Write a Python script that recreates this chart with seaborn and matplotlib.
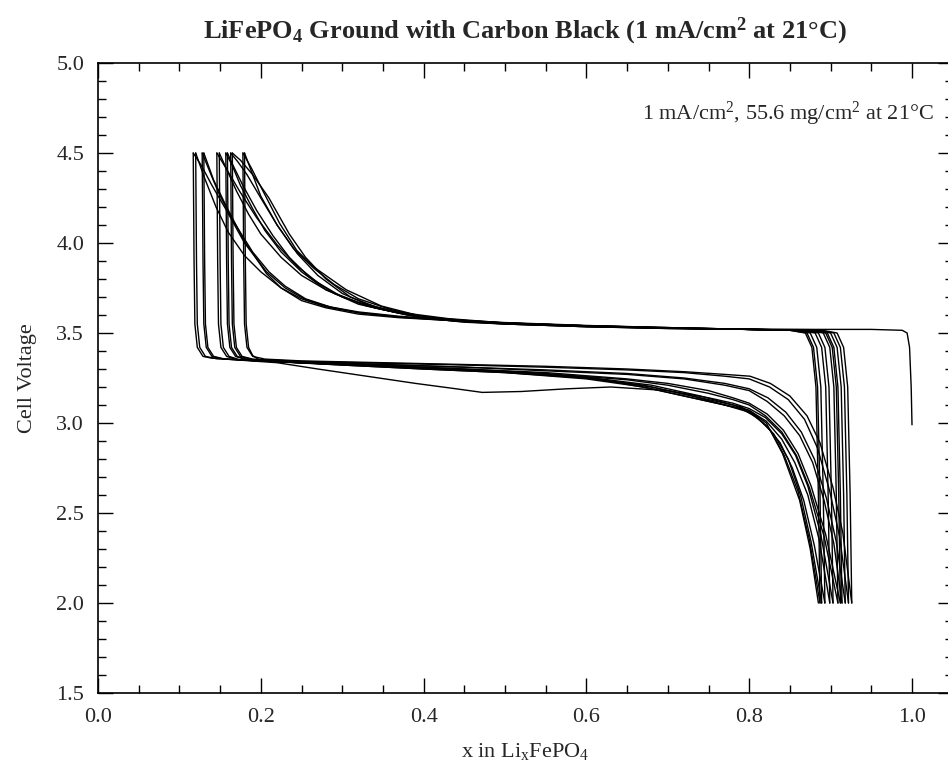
import numpy as np
import pandas as pd
import matplotlib
matplotlib.use("Agg")
import matplotlib.pyplot as plt
import seaborn as sns
from matplotlib.ticker import MultipleLocator

# ---- data: charge (C) and discharge (D) curves ----
C1_x = [1.000, 0.999, 0.997, 0.994, 0.988, 0.95, 0.88, 0.80, 0.70, 0.60, 0.50, 0.45, 0.40, 0.348, 0.305, 0.264, 0.244, 0.223, 0.198, 0.188, 0.178]
C1_v = [2.99, 3.20, 3.42, 3.50, 3.515, 3.52, 3.52, 3.522, 3.527, 3.535, 3.55, 3.565, 3.59, 3.65, 3.74, 3.87, 3.96, 4.11, 4.33, 4.42, 4.50]
D1_x = [0.178, 0.179, 0.180, 0.183, 0.190, 0.205, 0.25, 0.35, 0.45, 0.55, 0.65, 0.72, 0.77, 0.801, 0.826, 0.850, 0.871, 0.887, 0.903, 0.915, 0.926]
D1_v = [4.50, 3.90, 3.55, 3.42, 3.37, 3.355, 3.345, 3.335, 3.325, 3.315, 3.30, 3.285, 3.27, 3.26, 3.22, 3.15, 3.04, 2.89, 2.64, 2.39, 2.00]

C2_x = [0.926, 0.924, 0.921, 0.916, 0.908, 0.89, 0.80, 0.70, 0.60, 0.50, 0.45, 0.40, 0.35, 0.31, 0.28, 0.255, 0.235, 0.21, 0.19, 0.175, 0.165]
C2_v = [2.00, 2.60, 3.20, 3.42, 3.50, 3.515, 3.52, 3.525, 3.535, 3.55, 3.56, 3.585, 3.63, 3.70, 3.80, 3.92, 4.05, 4.25, 4.38, 4.46, 4.50]
D2_x = [0.165, 0.166, 0.167, 0.170, 0.177, 0.19, 0.25, 0.35, 0.45, 0.55, 0.65, 0.72, 0.77, 0.80, 0.825, 0.848, 0.868, 0.884, 0.899, 0.911, 0.922]
D2_v = [4.50, 3.90, 3.55, 3.42, 3.37, 3.355, 3.342, 3.332, 3.322, 3.31, 3.295, 3.28, 3.26, 3.245, 3.20, 3.13, 3.02, 2.86, 2.62, 2.37, 2.00]

C3_x = [0.922, 0.920, 0.917, 0.912, 0.904, 0.885, 0.80, 0.70, 0.60, 0.50, 0.44, 0.39, 0.34, 0.30, 0.27, 0.245, 0.22, 0.20, 0.183, 0.172, 0.163]
C3_v = [2.00, 2.60, 3.20, 3.42, 3.50, 3.515, 3.52, 3.525, 3.535, 3.55, 3.565, 3.59, 3.64, 3.72, 3.82, 3.94, 4.10, 4.25, 4.38, 4.45, 4.50]
D3_x = [0.163, 0.164, 0.165, 0.168, 0.175, 0.19, 0.25, 0.35, 0.45, 0.55, 0.65, 0.72, 0.77, 0.80, 0.823, 0.845, 0.864, 0.88, 0.895, 0.907, 0.918]
D3_v = [4.50, 3.90, 3.55, 3.42, 3.37, 3.352, 3.34, 3.325, 3.31, 3.295, 3.275, 3.25, 3.22, 3.19, 3.14, 3.06, 2.95, 2.80, 2.58, 2.34, 2.00]

C4_x = [0.918, 0.916, 0.913, 0.908, 0.900, 0.88, 0.80, 0.70, 0.60, 0.50, 0.44, 0.38, 0.33, 0.29, 0.26, 0.235, 0.215, 0.195, 0.178, 0.166, 0.159]
C4_v = [2.00, 2.60, 3.20, 3.42, 3.50, 3.515, 3.52, 3.526, 3.537, 3.552, 3.57, 3.60, 3.65, 3.72, 3.81, 3.92, 4.04, 4.18, 4.32, 4.43, 4.50]
D4_x = [0.159, 0.160, 0.161, 0.164, 0.171, 0.185, 0.25, 0.35, 0.45, 0.55, 0.65, 0.72, 0.77, 0.80, 0.822, 0.843, 0.862, 0.878, 0.892, 0.904, 0.914]
D4_v = [4.50, 3.90, 3.55, 3.42, 3.37, 3.352, 3.338, 3.325, 3.31, 3.29, 3.27, 3.245, 3.21, 3.18, 3.12, 3.04, 2.93, 2.78, 2.57, 2.33, 2.00]

C5_x = [0.914, 0.912, 0.909, 0.904, 0.896, 0.875, 0.80, 0.70, 0.60, 0.50, 0.43, 0.37, 0.32, 0.28, 0.25, 0.225, 0.205, 0.19, 0.175, 0.165, 0.157]
C5_v = [2.00, 2.60, 3.20, 3.42, 3.50, 3.515, 3.52, 3.527, 3.538, 3.555, 3.575, 3.61, 3.66, 3.74, 3.84, 3.95, 4.07, 4.19, 4.32, 4.43, 4.50]
D5_x = [0.157, 0.158, 0.159, 0.162, 0.169, 0.183, 0.25, 0.35, 0.45, 0.55, 0.65, 0.70, 0.75, 0.78, 0.80, 0.822, 0.842, 0.86, 0.876, 0.894, 0.912]
D5_v = [4.50, 3.90, 3.55, 3.42, 3.37, 3.35, 3.335, 3.32, 3.30, 3.28, 3.245, 3.22, 3.18, 3.14, 3.11, 3.05, 2.96, 2.83, 2.65, 2.38, 2.00]

C6_x = [0.912, 0.910, 0.907, 0.902, 0.894, 0.875, 0.80, 0.70, 0.60, 0.50, 0.43, 0.37, 0.32, 0.28, 0.25, 0.225, 0.20, 0.185, 0.17, 0.158, 0.149]
C6_v = [2.00, 2.60, 3.20, 3.42, 3.50, 3.515, 3.52, 3.528, 3.54, 3.556, 3.58, 3.615, 3.67, 3.74, 3.82, 3.92, 4.05, 4.16, 4.29, 4.41, 4.50]
D6_x = [0.149, 0.150, 0.151, 0.154, 0.161, 0.175, 0.25, 0.35, 0.45, 0.55, 0.65, 0.70, 0.75, 0.78, 0.80, 0.82, 0.84, 0.858, 0.874, 0.892, 0.909]
D6_v = [4.50, 3.90, 3.55, 3.42, 3.37, 3.35, 3.335, 3.318, 3.30, 3.275, 3.24, 3.21, 3.165, 3.13, 3.10, 3.04, 2.95, 2.82, 2.64, 2.37, 2.00]

C7_x = [0.909, 0.907, 0.904, 0.899, 0.891, 0.87, 0.80, 0.70, 0.60, 0.50, 0.44, 0.39, 0.34, 0.30, 0.27, 0.245, 0.22, 0.195, 0.175, 0.158, 0.146]
C7_v = [2.00, 2.60, 3.20, 3.42, 3.50, 3.515, 3.52, 3.527, 3.537, 3.552, 3.568, 3.595, 3.64, 3.70, 3.78, 3.87, 3.99, 4.14, 4.28, 4.41, 4.50]
D7_x = [0.146, 0.147, 0.148, 0.151, 0.158, 0.172, 0.22, 0.27, 0.33, 0.39, 0.44, 0.472, 0.52, 0.576, 0.63, 0.70, 0.75, 0.78, 0.80, 0.82, 0.84, 0.857, 0.872, 0.888, 0.903]
D7_v = [4.50, 3.90, 3.55, 3.42, 3.37, 3.35, 3.335, 3.30, 3.26, 3.22, 3.19, 3.17, 3.175, 3.19, 3.20, 3.18, 3.14, 3.11, 3.08, 3.03, 2.94, 2.82, 2.65, 2.38, 2.00]

C8_x = [0.903, 0.901, 0.898, 0.893, 0.885, 0.865, 0.80, 0.70, 0.60, 0.50, 0.43, 0.37, 0.32, 0.28, 0.25, 0.225, 0.207, 0.18, 0.158, 0.142, 0.130]
C8_v = [2.00, 2.60, 3.20, 3.42, 3.50, 3.515, 3.52, 3.528, 3.54, 3.555, 3.57, 3.585, 3.605, 3.64, 3.68, 3.75, 3.83, 4.01, 4.20, 4.35, 4.50]
D8_x = [0.130, 0.131, 0.132, 0.135, 0.142, 0.156, 0.22, 0.30, 0.40, 0.50, 0.60, 0.68, 0.74, 0.78, 0.80, 0.821, 0.84, 0.856, 0.872, 0.886, 0.899]
D8_v = [4.50, 3.90, 3.55, 3.42, 3.37, 3.355, 3.34, 3.325, 3.305, 3.285, 3.255, 3.21, 3.15, 3.10, 3.07, 3.01, 2.91, 2.78, 2.60, 2.35, 2.00]

C9_x = [0.899, 0.897, 0.894, 0.889, 0.881, 0.86, 0.80, 0.70, 0.60, 0.50, 0.43, 0.37, 0.32, 0.285, 0.255, 0.23, 0.21, 0.19, 0.165, 0.148, 0.137, 0.128]
C9_v = [2.00, 2.60, 3.20, 3.42, 3.50, 3.515, 3.52, 3.528, 3.54, 3.555, 3.57, 3.588, 3.612, 3.645, 3.69, 3.76, 3.84, 3.95, 4.13, 4.28, 4.40, 4.50]
D9_x = [0.128, 0.129, 0.130, 0.133, 0.140, 0.154, 0.22, 0.30, 0.40, 0.50, 0.60, 0.68, 0.73, 0.77, 0.80, 0.82, 0.838, 0.853, 0.867, 0.88, 0.893]
D9_v = [4.50, 3.90, 3.55, 3.42, 3.37, 3.355, 3.34, 3.322, 3.30, 3.28, 3.25, 3.20, 3.15, 3.10, 3.06, 2.99, 2.89, 2.75, 2.57, 2.32, 2.00]

C10_x = [0.893, 0.891, 0.888, 0.883, 0.875, 0.855, 0.80, 0.70, 0.60, 0.50, 0.43, 0.37, 0.32, 0.28, 0.25, 0.225, 0.20, 0.18, 0.16, 0.145, 0.131, 0.120]
C10_v = [2.00, 2.60, 3.20, 3.42, 3.50, 3.515, 3.52, 3.53, 3.54, 3.556, 3.572, 3.59, 3.613, 3.645, 3.69, 3.75, 3.84, 3.93, 4.06, 4.20, 4.36, 4.50]
D10_x = [0.120, 0.121, 0.122, 0.125, 0.132, 0.146, 0.22, 0.30, 0.40, 0.50, 0.60, 0.67, 0.72, 0.76, 0.79, 0.81, 0.83, 0.848, 0.863, 0.876, 0.889]
D10_v = [4.50, 3.90, 3.55, 3.42, 3.37, 3.357, 3.342, 3.322, 3.30, 3.28, 3.245, 3.20, 3.15, 3.11, 3.08, 3.03, 2.94, 2.80, 2.60, 2.34, 2.00]

C11_x = [0.889, 0.887, 0.884, 0.879, 0.871, 0.85, 0.80, 0.70, 0.60, 0.50, 0.43, 0.37, 0.32, 0.285, 0.255, 0.23, 0.207, 0.18, 0.158, 0.140, 0.127, 0.117]
C11_v = [2.00, 2.60, 3.20, 3.42, 3.50, 3.515, 3.52, 3.53, 3.542, 3.558, 3.574, 3.593, 3.617, 3.645, 3.685, 3.75, 3.84, 4.00, 4.18, 4.32, 4.43, 4.50]
D11_x = [0.117, 0.118, 0.119, 0.122, 0.129, 0.14, 0.20, 0.30, 0.40, 0.50, 0.60, 0.67, 0.72, 0.76, 0.79, 0.808, 0.826, 0.843, 0.86, 0.874, 0.887]
D11_v = [4.50, 3.90, 3.55, 3.42, 3.37, 3.36, 3.345, 3.325, 3.305, 3.283, 3.25, 3.21, 3.16, 3.12, 3.09, 3.04, 2.96, 2.82, 2.62, 2.35, 2.00]

C12_x = [0.887, 0.885, 0.882, 0.877, 0.869, 0.85, 0.80, 0.70, 0.60, 0.50, 0.45, 0.40, 0.36, 0.32, 0.29, 0.265, 0.24, 0.22, 0.20, 0.19, 0.180]
C12_v = [2.00, 2.60, 3.20, 3.42, 3.50, 3.515, 3.52, 3.53, 3.54, 3.555, 3.57, 3.59, 3.63, 3.69, 3.77, 3.86, 3.97, 4.10, 4.26, 4.38, 4.50]
D12_x = [0.180, 0.181, 0.182, 0.185, 0.190, 0.20, 0.25, 0.35, 0.45, 0.55, 0.62, 0.68, 0.72, 0.76, 0.80, 0.821, 0.841, 0.862, 0.875, 0.885]
D12_v = [4.50, 3.90, 3.55, 3.42, 3.375, 3.345, 3.335, 3.315, 3.295, 3.27, 3.24, 3.19, 3.15, 3.11, 3.07, 3.00, 2.83, 2.57, 2.30, 2.00]

curves = [
    ("C1", C1_x, C1_v), ("D1", D1_x, D1_v), ("C2", C2_x, C2_v), ("D2", D2_x, D2_v),
    ("C3", C3_x, C3_v), ("D3", D3_x, D3_v), ("C4", C4_x, C4_v), ("D4", D4_x, D4_v),
    ("C5", C5_x, C5_v), ("D5", D5_x, D5_v), ("C6", C6_x, C6_v), ("D6", D6_x, D6_v),
    ("C7", C7_x, C7_v), ("D7", D7_x, D7_v), ("C8", C8_x, C8_v), ("D8", D8_x, D8_v),
    ("C9", C9_x, C9_v), ("D9", D9_x, D9_v), ("C10", C10_x, C10_v), ("D10", D10_x, D10_v),
    ("C11", C11_x, C11_v), ("D11", D11_x, D11_v), ("C12", C12_x, C12_v), ("D12", D12_x, D12_v),
]

rows = []
for name, xs, vs in curves:
    for i, (a, b) in enumerate(zip(xs, vs)):
        rows.append({"curve": name, "order": i, "x": a, "V": b})
df = pd.DataFrame(rows)

# ---- styling ----
sns.set_style("ticks")
plt.rcParams["font.family"] = ["Liberation Serif", "DejaVu Serif"]
plt.rcParams["mathtext.fontset"] = "custom"
plt.rcParams["mathtext.rm"] = "Liberation Serif"
plt.rcParams["mathtext.it"] = "Liberation Serif:italic"
plt.rcParams["mathtext.bf"] = "Liberation Serif:bold"

fig = plt.figure(figsize=(9.48, 7.65), dpi=100)
ax = fig.add_axes([98 / 948, 72 / 765, 1.05 * 814 / 948, 630 / 765])

sns.lineplot(data=df, x="x", y="V", units="curve", estimator=None, sort=False,
             color="black", linewidth=1.0, ax=ax, legend=False)

ax.set_xlim(0, 1.05)
ax.set_ylim(1.5, 5.0)
ax.xaxis.set_major_locator(MultipleLocator(0.2))
ax.xaxis.set_minor_locator(MultipleLocator(0.05))
ax.yaxis.set_major_locator(MultipleLocator(0.5))
ax.yaxis.set_minor_locator(MultipleLocator(0.1))
ax.xaxis.set_major_formatter(matplotlib.ticker.FormatStrFormatter("%.1f"))
ax.yaxis.set_major_formatter(matplotlib.ticker.FormatStrFormatter("%.1f"))
ax.tick_params(which="both", direction="in", top=True, right=True, color="black", width=1.0)
ax.tick_params(which="major", length=11, labelsize=16)
ax.tick_params(axis="y", which="major", pad=10)
ax.tick_params(axis="x", which="major", pad=11)
ax.tick_params(which="minor", length=6)
for s in ax.spines.values():
    s.set_linewidth(1.2)
    s.set_color("black")

ax.set_xlabel(r"x in Li$_\mathrm{x}$FePO$_4$", fontsize=16, labelpad=10)
ax.set_ylabel("Cell Voltage", fontsize=16, labelpad=14)
ax.set_title(r"LiFePO$_\mathbf{4}$ Ground with Carbon Black (1 mA/cm$^\mathbf{2}$ at 21°C)",
             fontsize=19, fontweight="bold", pad=18)
ax.text(1.027, 4.72, r"1 mA/cm$^2$, 55.6 mg/cm$^2$ at 21°C", fontsize=16,
        ha="right", va="center")

fig.savefig("out.png", dpi=100)
